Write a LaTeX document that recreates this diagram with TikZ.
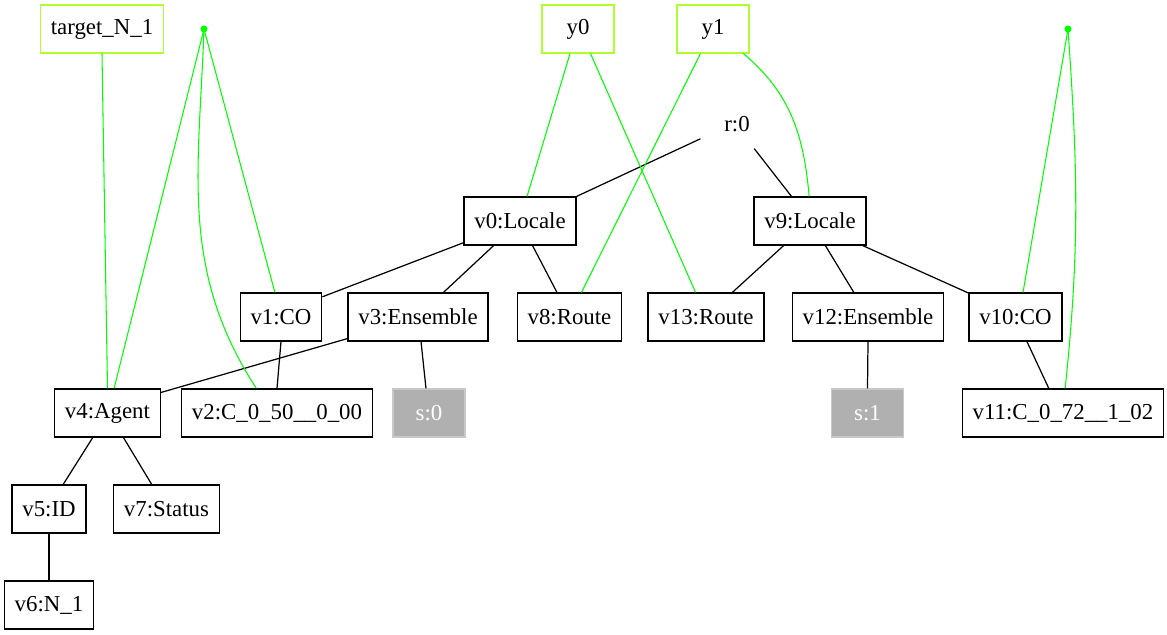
\documentclass[tikz,border=0pt]{standalone}
\usepackage{fontspec}
\setmainfont{Liberation Serif}
\definecolor{linkgreen}{HTML}{00FF00}
\definecolor{tgtgreen}{HTML}{ADFF2F}
\definecolor{sgray}{HTML}{B0B0B0}
\definecolor{sborder}{HTML}{C8C8C8}
\begin{document}
\begin{tikzpicture}[x=0.02cm,y=-0.02cm,
 box/.style={draw,line width=0.7pt,inner xsep=5.9pt,minimum height=0.96cm,minimum width=1.44cm,font=\fontsize{13}{15}\selectfont},
 tgt/.style={box,draw=tgtgreen},
 sbox/.style={box,draw=sborder,fill=sgray,text=white},
 dot/.style={circle,fill=linkgreen,inner sep=0pt,minimum size=0.14cm},
 gline/.style={linkgreen,line width=0.6pt}]

\useasboundingbox (0,0) rectangle (1167,635);

\node[tgt] (t1) at (102,29) {target\_N\_1};
\node[dot] (d1) at (204,29) {};
\node[tgt] (y0) at (578,29) {y0};
\node[tgt] (y1) at (713,29) {y1};
\node[dot] (d2) at (1068,29) {};
\node[box,draw=none] (r0) at (737,124) {r:0};

\node[box] (v0) at (520,221) {v0:Locale};
\node[box] (v9) at (810,221) {v9:Locale};
\node[box] (v1) at (281,317) {v1:CO};
\node[box] (v3) at (418,317) {v3:Ensemble};
\node[box] (v8) at (569.5,317) {v8:Route};
\node[box] (v13) at (706,317) {v13:Route};
\node[box] (v12) at (868,317) {v12:Ensemble};
\node[box] (v10) at (1015.5,317) {v10:CO};
\node[box] (v4) at (107.5,413) {v4:Agent};
\node[box] (v2) at (277,413) {v2:C\_0\_50\_\_0\_00};
\node[sbox] (s0) at (429,413) {s:0};
\node[sbox] (s1) at (867.5,413) {s:1};
\node[box] (v11) at (1063,413) {v11:C\_0\_72\_\_1\_02};
\node[box] (v5) at (49,509) {v5:ID};
\node[box] (v7) at (166.5,509) {v7:Status};
\node[box] (v6) at (49,605) {v6:N\_1};

\foreach \a/\p/\b/\q in {r0/202/v0/north east, r0/-55/v9/127,
  v0/201/v1/26, v0/223/v3/44, v0/-63/v8/117,
  v9/223/v13/43, v9/-58/v12/120, v9/-25/v10/153,
  v1/south/v2/north, v3/197/v4/21, v3/-83/s0/97,
  v12/south/s1/north, v10/-65/v11/120,
  v4/-121/v5/60, v4/-57/v7/121, v5/south/v6/north}
{
\draw[line width=0.7pt] (\a.\p) -- (\b.\q);
}

\foreach \a/\p/\b/\q in {t1/south/v4/north, d1/center/v4/75, d1/center/v1/104,
  y0/-108/v0/74, y0/-63/v13/113, y1/-117/v8/64, d2/center/v10/73}
{
\draw[gline] (\a.\p) -- (\b.\q);
}

\draw[gline] (d1.center) to[out=-92,in=123] (v2.130);
\draw[gline] (y1.-39) to[out=-40,in=95] (v9.92);
\draw[gline] (d2.center) to[out=-86,in=84] (v11.85);
\end{tikzpicture}
\end{document}
